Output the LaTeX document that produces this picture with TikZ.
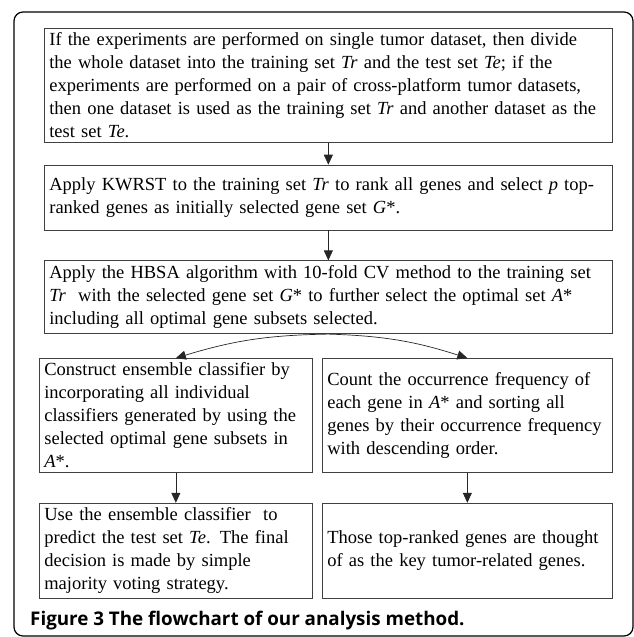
\documentclass[tikz,border=0pt]{standalone}
\usepackage{fontspec}
\setmainfont{Liberation Serif}
\newfontfamily\capfont{Open Sans}
\usetikzlibrary{positioning,arrows.meta}

\begin{document}
\begin{tikzpicture}[x=1pt,y=-1pt]
   \tikzstyle{stage}=[draw=black!75, line width=0.7pt, align=left, inner xsep=5pt, inner ysep=0pt, font=\fontsize{18.5}{23}\selectfont]
   \tikzstyle{wide}=[stage, text width=558pt]
   \tikzstyle{flow}=[draw=black!85, line width=0.7pt, -{Triangle[length=10pt,width=9pt]}]

\useasboundingbox (0,0) rectangle (633,637);
\draw[line width=1.2pt, rounded corners=9pt] (14,12) rectangle (633,636);

\node[wide, minimum height=114pt, anchor=north west] (split) at (44,28) {If the experiments are performed on single tumor dataset, then divide\\
the whole dataset into the training set \textit{Tr} and the test set \textit{Te}; if the\\
experiments are performed on a pair of cross-platform tumor datasets,\\
then one dataset is used as the training set \textit{Tr} and another dataset as the\\
test set \textit{Te}.};
\node[wide, minimum height=65pt, below=22pt of split] (rank) {Apply KWRST to the training set \textit{Tr} to rank all genes and select \textit{p} top-\\
ranked genes as initially selected gene set \textit{G}*.};
\node[wide, minimum height=73pt, below=30pt of rank] (hbsa) {Apply the HBSA algorithm with 10-fold CV method to the training set\\
\textit{Tr}~ with the selected gene set \textit{G}* to further select the optimal set \textit{A}*\\
including all optimal gene subsets selected.};

\node[stage, text width=263pt, minimum height=114pt, below right=24pt and -5pt of hbsa.south west] (ensemble) {Construct ensemble classifier by\\
incorporating all individual\\
classifiers generated by using the\\
selected optimal gene subsets in\\
\textit{A}*.};
\node[stage, text width=280pt, minimum height=114pt, below left=24pt and 0pt of hbsa.south east] (count) {Count the occurrence frequency of\\
each gene in \textit{A}* and sorting all\\
genes by their occurrence frequency\\
with descending order.};
\node[stage, text width=263pt, minimum height=95pt, below=30pt of ensemble] (vote) {Use the ensemble classifier~ to\\
predict the test set \textit{Te}. The final\\
decision is made by simple\\
majority voting strategy.};
\node[stage, text width=280pt, minimum height=95pt, below=30pt of count] (key) {Those top-ranked genes are thought\\
of as the key tumor-related genes.};

\node[anchor=west, inner sep=0pt, font=\capfont\bfseries\fontsize{18.8}{20}\selectfont] (caption) at (30,621) {Figure 3 The flowchart of our analysis method.};

\draw[flow] (split) -- (rank);
\draw[flow] (rank) -- (hbsa);
\draw[flow] (hbsa.south) to[bend right=8] (ensemble.north);
\draw[flow] (hbsa.south) to[bend left=8] (count.north);
\draw[flow] (ensemble) -- (vote);
\draw[flow] (count) -- (key);

\end{tikzpicture}
\end{document}
